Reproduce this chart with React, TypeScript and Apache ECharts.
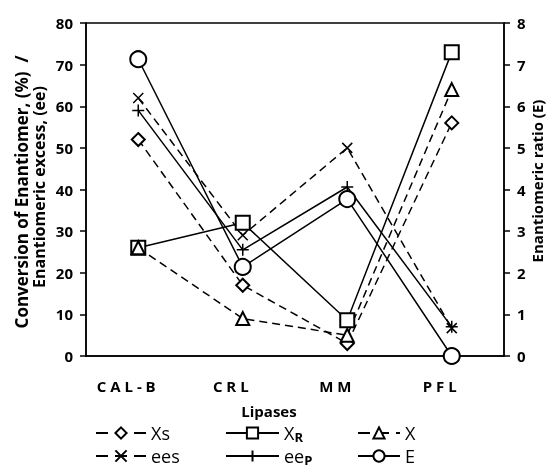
import React, { useEffect, useRef } from 'react';
import * as echarts from 'echarts';

const categories = ['CAL-B', 'CRL', 'MM', 'PFL'];
const xsValues = [52, 17, 3, 56];
const xrValues = [26, 32, 8.6, 73];
const xValues = [26, 9, 5, 64];
const eesValues = [62, 29, 50, 6.7];
const eepValues = [59, 25.5, 40.6, 7];
const eValues = [7.13, 2.14, 3.77, 0];

const seriesNames = ['Xs', 'XR', 'X', 'ees', 'eeP', 'E'];
const legendLabels: Record<string, string> = {
  Xs: 'Xs',
  XR: 'X{b|R}',
  X: 'X',
  ees: 'ees',
  eeP: 'ee{b|P}',
  E: 'E',
};
const dashedNames = ['Xs', 'X', 'ees'];

const FONT = '"Open Sans", "Noto Sans", sans-serif';
const DASH = [8, 5];
const CROSS = 'path://M0 0L10 10M10 0L0 10';
const PLUS = 'path://M5 0L5 10M0 5L10 5';

export default function App() {
  const ref = useRef<HTMLDivElement>(null);
  useEffect(() => {
    if (!ref.current) return;
    const chart = echarts.init(ref.current, null, { renderer: 'svg' });
    const emptyStyle = { color: '#000', borderWidth: 1.5 };
    const strokeStyle = { color: 'rgba(0,0,0,0)', borderColor: '#000', borderWidth: 1.5 };
    const mk = (name: string, data: number[], symbol: string, size: number, dashed: boolean, itemStyle: any, yAxisIndex = 0) => ({
      name,
      type: 'line',
      data,
      yAxisIndex,
      symbol,
      symbolSize: size,
      showAllSymbol: true,
      lineStyle: { color: '#000', width: 1.5, type: dashed ? DASH : 'solid' },
      itemStyle,
      emphasis: { disabled: true },
      z: 2,
    });
    const legendPos = [
      { left: 95, top: 423, w: 50 },
      { left: 225, top: 423, w: 53 },
      { left: 357, top: 423, w: 42 },
      { left: 95, top: 446, w: 50 },
      { left: 225, top: 446, w: 53 },
      { left: 357, top: 446, w: 42 },
    ];
    const legends = seriesNames.map((n, i) => ({
      data: [n],
      left: legendPos[i].left,
      top: legendPos[i].top,
      itemWidth: legendPos[i].w,
      itemHeight: 14,
      padding: 0,
      selectedMode: false,
      lineStyle: dashedNames.includes(n) ? { type: [12, 7] } : {},
      formatter: (name: string) => legendLabels[name],
      textStyle: {
        fontFamily: FONT,
        fontSize: 18,
        lineHeight: 20,
        color: '#000',
        rich: {
          b: { fontFamily: FONT, fontSize: 13, lineHeight: 20, fontWeight: 'bold', color: '#000', verticalAlign: 'bottom', padding: [3, 0, 0, 0] },
        },
      },
    }));
    chart.setOption({
      animation: false,
      grid: {
        left: 86,
        right: 47,
        top: 23,
        bottom: 115,
        show: true,
        borderColor: '#000',
        borderWidth: 1.5,
        backgroundColor: 'transparent',
      },
      legend: legends,
      xAxis: {
        type: 'category',
        data: categories,
        boundaryGap: true,
        name: 'Lipases',
        nameLocation: 'middle',
        nameGap: 47,
        nameTextStyle: { fontFamily: FONT, fontSize: 15, fontWeight: 'bold', color: '#000', padding: [0, 52, 0, 0] },
        axisLine: { lineStyle: { color: '#000', width: 1.5 } },
        axisTick: { alignWithLabel: true, length: 6, lineStyle: { color: '#000', width: 1.5 } },
        axisLabel: {
          margin: 22,
          fontFamily: FONT,
          fontSize: 15,
          fontWeight: 'bold',
          color: '#000',
          padding: [0, 24, 0, 0],
          formatter: (v: string) => v.split('').join(' '),
        },
        splitLine: { show: false },
      },
      yAxis: [
        {
          type: 'value',
          min: 0,
          max: 80,
          interval: 10,
          axisLine: { show: true, lineStyle: { color: '#000', width: 1.5 } },
          axisTick: { show: true, length: 6, lineStyle: { color: '#000', width: 1.5 } },
          axisLabel: { margin: 13, fontFamily: FONT, fontSize: 15, fontWeight: 'bold', color: '#000' },
          splitLine: { show: false },
        },
        {
          type: 'value',
          min: 0,
          max: 8,
          interval: 1,
          position: 'right',
          axisLine: { show: true, lineStyle: { color: '#000', width: 1.5 } },
          axisTick: { show: true, length: 6, lineStyle: { color: '#000', width: 1.5 } },
          axisLabel: { margin: 13, fontFamily: FONT, fontSize: 15, fontWeight: 'bold', color: '#000' },
          splitLine: { show: false },
        },
      ],
      graphic: [
        {
          type: 'text',
          x: 21,
          y: 192,
          rotation: Math.PI / 2,
          style: {
            text: 'Conversion of Enantiomer, (%)  /',
            fontFamily: FONT,
            fontSize: 17,
            fontWeight: 'bold',
            fill: '#000',
            align: 'center',
            verticalAlign: 'middle',
          },
        },
        {
          type: 'text',
          x: 39,
          y: 187,
          rotation: Math.PI / 2,
          style: {
            text: 'Enantiomeric excess, (ee)',
            fontFamily: FONT,
            fontSize: 16,
            fontWeight: 'bold',
            fill: '#000',
            align: 'center',
            verticalAlign: 'middle',
          },
        },
        {
          type: 'text',
          x: 537,
          y: 181,
          rotation: Math.PI / 2,
          style: {
            text: 'Enantiomeric ratio (E)',
            fontFamily: FONT,
            fontSize: 15,
            fontWeight: 'bold',
            fill: '#000',
            align: 'center',
            verticalAlign: 'middle',
          },
        },
      ],
      series: [
        mk('XR', xrValues, 'emptyRect', 14, false, emptyStyle),
        mk('Xs', xsValues, 'emptyDiamond', 13, true, emptyStyle),
        mk('X', xValues, 'emptyTriangle', 13, true, emptyStyle),
        mk('ees', eesValues, CROSS, 10, true, strokeStyle),
        mk('eeP', eepValues, PLUS, 12, false, strokeStyle),
        mk('E', eValues, 'emptyCircle', 16, false, emptyStyle, 1),
      ],
    });
    return () => chart.dispose();
  }, []);
  return <div ref={ref} style={{ position: 'fixed', left: 0, top: 0, width: 551, height: 471 }} />;
}
